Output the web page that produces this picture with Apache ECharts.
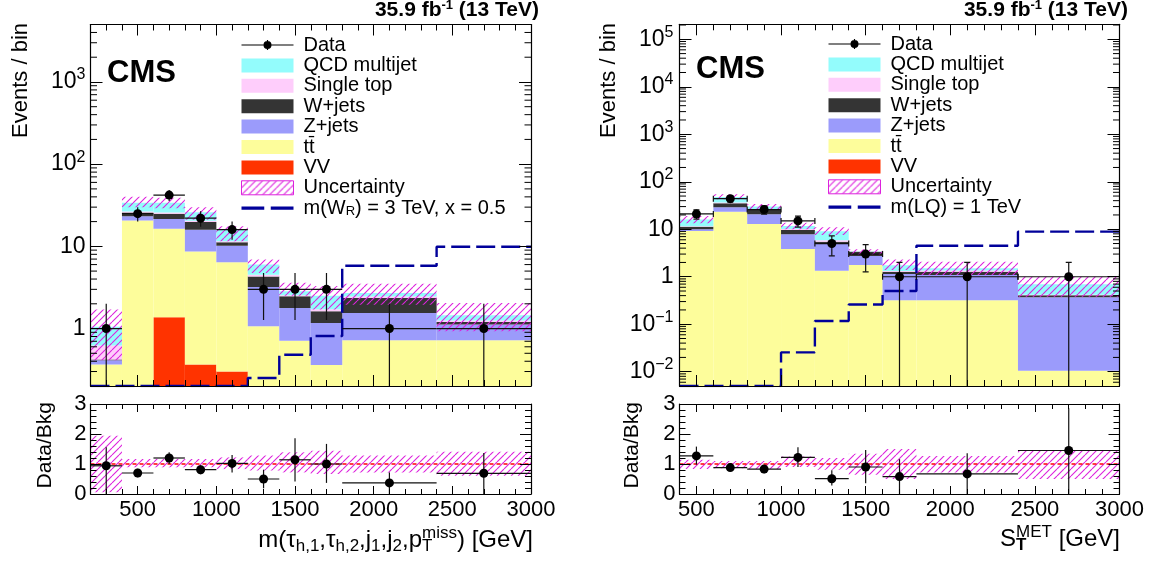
<!DOCTYPE html>
<html><head><meta charset="utf-8">
<script src="https://cdn.jsdelivr.net/npm/echarts@6/dist/echarts.min.js"></script>
<style>html,body{margin:0;padding:0;background:#fff}#c{width:1152px;height:563px}</style>
</head><body><div id="c"></div>
<script>
// ---------------- DATA ----------------
// Left panel: m(tau_h1, tau_h2, j1, j2, pTmiss)
const L_EDGES = [200, 400, 600, 800, 1000, 1200, 1400, 1600, 1800, 2400, 3000];
const L_VV  = [0, 0, 1.37, 0.365, 0.30, 0, 0, 0, 0, 0];
const L_TT  = [0.365, 20.7, 15.0, 8.3, 6.1, 1.07, 0.71, 0.36, 0.72, 0.72];
const L_Z   = [0.045, 2.5, 5.1, 7.3, 3.8, 2.13, 1.07, 0.81, 0.83, 0.40];
const L_W   = [0.01, 2.6, 3.5, 3.8, 1.0, 1.1, 0.69, 0.45, 0.81, 0.08];
const L_ST  = [0.2, 0.7, 0.8, 0.7, 0.3, 0.2, 0.08, 0.1, 0.09, 0.05];
const L_QCD = [0.43, 7.5, 8.2, 5.5, 4.5, 1.5, 0.3, 0.78, 0.25, 0.2];
const L_UNC_LO = [0.41, 30, 29, 21, 11.5, 4.75, 2.5, 1.7, 1.95, 0.93];
const L_UNC_HI = [1.70, 40, 39, 30, 17.5, 6.9, 3.6, 3.3, 3.5, 2.05];
const L_DATA = [1, 25, 42, 22, 16, 3, 3, 3, 1, 1];
const L_DATA_ERR = [1, 5, 6.5, 4.7, 4, 1.73, 1.73, 1.73, 1, 1];
const L_SIG = [0.2, 0.2, 0.2, 0.2, 0.2, 0.25, 0.48, 0.81, 5.8, 9.9];
const L_RATIO    = [0.94, 0.70, 1.20, 0.81, 1.02, 0.50, 1.14, 1.00, 0.37, 0.69];
const L_RATIO_LO = [0.00, 0.56, 1.00, 0.66, 0.72, 0.19, 0.42, 0.37, 0.00, 0.00];
const L_RATIO_HI = [1.56, 0.84, 1.39, 0.96, 1.30, 0.81, 1.86, 1.67, 0.72, 1.37];
const L_BAND_LO  = [0.06, 0.89, 0.89, 0.89, 0.83, 0.78, 0.72, 0.67, 0.72, 0.61];
const L_BAND_HI  = [1.94, 1.17, 1.17, 1.17, 1.22, 1.28, 1.39, 1.44, 1.28, 1.41];

// Right panel: S_T^MET
const R_EDGES = [400, 600, 800, 1000, 1200, 1400, 1600, 1800, 2400, 3000];
const R_VV  = [0, 0, 0, 0, 0, 0, 0, 0, 0];
const R_TT  = [9.2, 23.4, 12.9, 3.83, 1.34, 1.76, 0.32, 0.32, 0.0105];
const R_Z   = [0.75, 5.5, 7.7, 3.97, 3.54, 0.97, 0.82, 0.77, 0.36];
const R_W   = [1.35, 6.2, 4.8, 1.8, 0.58, 0.63, 0.13, 0.18, 0.035];
const R_ST  = [0.3, 1.5, 0.8, 0.5, 0.4, 0.05, 0.05, 0.08, 0.01];
const R_QCD = [4.4, 11.4, 3.8, 1.6, 3.24, 0.05, 0.43, 0.15, 0.275];
const R_UNC_LO = [13.3, 42.6, 26.5, 9.95, 7.55, 2.86, 1.38, 1.09, 0.38];
const R_UNC_HI = [19.0, 54.3, 33.9, 13.7, 11.0, 3.77, 2.32, 2.07, 1.0];
const R_DATA = [21, 44, 26, 15, 5, 3, 1, 1, 1];
const R_DATA_ERR = [4.6, 6.6, 5.1, 3.9, 2.24, 1.73, 1, 1, 1];
const R_SIG = [0.005, 0.005, 0.005, 0.0255, 0.117, 0.26, 0.5, 4.5, 8.9];
const R_RATIO    = [1.27, 0.88, 0.83, 1.22, 0.51, 0.90, 0.58, 0.67, 1.45];
const R_RATIO_LO = [0.98, 0.76, 0.69, 0.90, 0.28, 0.36, 0.00, 0.00, 0.00];
const R_RATIO_HI = [1.58, 1.00, 0.97, 1.56, 0.79, 1.47, 1.16, 1.36, 2.86];
const R_BAND_LO  = [0.83, 0.86, 0.83, 0.90, 0.81, 0.64, 0.50, 0.72, 0.50];
const R_BAND_HI  = [1.14, 1.10, 1.10, 1.25, 1.20, 1.34, 1.50, 1.27, 1.47];

const NAMES = {VV: 'VV', TT: 't' + 't\u0304', Z: 'Z+jets', W: 'W+jets', ST: 'Single top', QCD: 'QCD multijet'};
const SIG_L_NAME = 'm(W_R) = 3 TeV, x = 0.5';
const SIG_R_NAME = 'm(LQ) = 1 TeV';
const X_TICK_LABELS = [500, 1000, 1500, 2000, 2500, 3000];

// ---------------- STYLE ----------------
const FONT = "'Liberation Sans', Arial, Helvetica, sans-serif";
const COL = {VV: '#ff3300', TT: '#fdfd9b', Z: '#9b9bfb', W: '#343434', ST: '#fecdfb', QCD: '#93fcfc'};
const SIG_COLOR = '#00009a';
const HATCH_COLOR = '#dd22dd';
const L_YMIN = 0.2, L_YMAX = 5000, R_YMIN = 0.005, R_YMAX = 2.07e5;

function makeHatch() {
  const s = 7, c = document.createElement('canvas');
  c.width = s; c.height = s;
  const g = c.getContext('2d');
  g.strokeStyle = HATCH_COLOR; g.lineWidth = 1.1;
  g.beginPath();
  [-s, 0, s].forEach(o => { g.moveTo(o, s); g.lineTo(o + s, 0); });
  g.stroke();
  return {image: c, repeat: 'repeat'};
}
const HATCH = makeHatch();

const DATA_ICON = 'path://M0,6.4L52,6.4L52,7.6L0,7.6Z M25.4,2L26.6,2L26.6,12L25.4,12Z M22,7A4,4,0,1,1,30,7A4,4,0,1,1,22,7Z';
const DASH_ICON = 'path://M0,0L21,0L21,3L0,3Z M27,0L48,0L48,3L27,3Z';

// ---------------- AXES ----------------
function axisLineCfg() { return {show: true, onZero: false, lineStyle: {color: '#000', width: 1.2}}; }
function makeXAxes(gi, min, max, showLabels, tl, ml) {
  const mk = (pos, lab) => ({
    type: 'value', gridIndex: gi, min: min, max: max, position: pos, z: 10,
    splitLine: {show: false}, minorSplitLine: {show: false},
    axisLine: axisLineCfg(),
    axisTick: {show: true, inside: true, length: tl, lineStyle: {color: '#000', width: 1}},
    minorTick: {show: true, splitNumber: 5, length: ml, lineStyle: {color: '#000', width: 1}},
    axisLabel: lab ? {show: true, margin: 5, fontSize: 22, fontFamily: FONT, color: '#000',
      formatter: v => (X_TICK_LABELS.indexOf(v) >= 0 ? String(v) : '')} : {show: false}
  });
  return [mk('bottom', showLabels), mk('top', false)];
}
function logFmt(v) {
  const e = Math.log10(v), r = Math.round(e);
  if (Math.abs(e - r) > 1e-6) return '';
  if (r === 0) return '{m|1}';
  if (r === 1) return '{m|10}';
  return '{m|10}{s|' + (r < 0 ? '\u2212' + (-r) : r) + '}';
}
function makeLogYAxes(gi, min, max, margin) {
  const mk = (pos, lab) => ({
    type: 'log', logBase: 10, gridIndex: gi, min: min, max: max, position: pos, z: 10,
    splitLine: {show: false},
    axisLine: axisLineCfg(),
    axisTick: {show: true, inside: true, length: 12, lineStyle: {color: '#000', width: 1}},
    minorTick: {show: false},
    axisLabel: lab ? {show: true, margin: margin, color: '#000', fontFamily: FONT, formatter: logFmt,
      showMinLabel: false, showMaxLabel: false,
      rich: {m: {fontSize: 23, lineHeight: 30, fontFamily: FONT, color: '#000'},
             s: {fontSize: 16, lineHeight: 18, verticalAlign: 'top', fontFamily: FONT, color: '#000'}}} : {show: false}
  });
  return [mk('left', true), mk('right', false)];
}
function makeRatioYAxes(gi) {
  const mk = (pos, lab) => ({
    type: 'value', gridIndex: gi, min: 0, max: 3, interval: 1, position: pos, z: 10,
    splitLine: {show: false}, minorSplitLine: {show: false},
    axisLine: axisLineCfg(),
    axisTick: {show: true, inside: true, length: 11, lineStyle: {color: '#000', width: 1}},
    minorTick: {show: true, splitNumber: 5, length: 6, lineStyle: {color: '#000', width: 1}},
    axisLabel: lab ? {show: true, margin: 4, fontSize: 22, fontFamily: FONT, color: '#000'} : {show: false}
  });
  return [mk('left', true), mk('right', false)];
}

// ---------------- SERIES HELPERS ----------------
function rectRender(ymin, fill) {
  return function (params, api) {
    const x0 = api.value(0), x1 = api.value(1);
    const lo = Math.max(api.value(2), ymin), hi = api.value(3);
    if (!(hi > lo)) return null;
    const a = api.coord([x0, hi]), b = api.coord([x1, lo]);
    return {type: 'rect', shape: {x: a[0], y: a[1], width: b[0] - a[0], height: b[1] - a[1]}, style: {fill: fill}};
  };
}
function pointRender(ymin, caps) {
  return function (params, api) {
    const xc = api.value(0), hw = api.value(1), y = api.value(2);
    const lo = Math.max(api.value(3), ymin), hi = api.value(4);
    const c = api.coord([xc, y]), l = api.coord([xc - hw, y]), r = api.coord([xc + hw, y]);
    const t = api.coord([xc, hi]), b = api.coord([xc, lo]);
    const st = {stroke: '#111', lineWidth: 1.2};
    const ch = [
      {type: 'line', shape: {x1: l[0], y1: c[1], x2: r[0], y2: c[1]}, style: st},
      {type: 'line', shape: {x1: c[0], y1: t[1], x2: c[0], y2: b[1]}, style: st}
    ];
    if (caps) {
      const k = 3;
      ch.push({type: 'line', shape: {x1: l[0], y1: c[1] - k, x2: l[0], y2: c[1] + k}, style: st});
      ch.push({type: 'line', shape: {x1: r[0], y1: c[1] - k, x2: r[0], y2: c[1] + k}, style: st});
      ch.push({type: 'line', shape: {x1: c[0] - k, y1: t[1], x2: c[0] + k, y2: t[1]}, style: st});
      if (api.value(3) > ymin) ch.push({type: 'line', shape: {x1: c[0] - k, y1: b[1], x2: c[0] + k, y2: b[1]}, style: st});
    }
    ch.push({type: 'circle', shape: {cx: c[0], cy: c[1], r: 4.5}, style: {fill: '#000'}});
    return {type: 'group', children: ch};
  };
}
function minorTickRender(len) {
  return function (params, api) {
    const p = api.coord([api.value(0), api.value(1)]);
    const cs = params.coordSys, y = p[1];
    const st = {stroke: '#000', lineWidth: 1};
    return {type: 'group', children: [
      {type: 'line', shape: {x1: cs.x, y1: y, x2: cs.x + len, y2: y}, style: st},
      {type: 'line', shape: {x1: cs.x + cs.width - len, y1: y, x2: cs.x + cs.width, y2: y}, style: st}
    ]};
  };
}

function panelSeries(p) {
  const out = [];
  const n = p.edges.length - 1;
  const bins = Array.from({length: n}, (_, i) => i);
  const cum = bins.map(() => 0);
  // stacked backgrounds (bottom to top)
  p.comps.forEach(cp => {
    const d = bins.map(i => {
      const lo = cum[i], hi = cum[i] + cp.vals[i];
      cum[i] = hi;
      return [p.edges[i], p.edges[i + 1], Math.max(lo, p.ymin), hi];
    });
    out.push({type: 'custom', name: cp.name, xAxisIndex: p.xu, yAxisIndex: p.yu, clip: true, z: 2,
      itemStyle: {color: cp.color}, encode: {x: [0, 1], y: [2, 3]},
      renderItem: rectRender(p.ymin, cp.color), data: d, silent: true});
  });
  // uncertainty hatch
  out.push({type: 'custom', name: 'Uncertainty', xAxisIndex: p.xu, yAxisIndex: p.yu, clip: true, z: 3,
    itemStyle: {color: HATCH}, encode: {x: [0, 1], y: [2, 3]}, silent: true,
    renderItem: rectRender(p.ymin, HATCH),
    data: bins.map(i => [p.edges[i], p.edges[i + 1], p.uncLo[i], p.uncHi[i]])});
  // signal step line
  out.push({type: 'line', name: p.sigName, xAxisIndex: p.xu, yAxisIndex: p.yu, z: 4, step: 'end',
    symbol: 'none', showSymbol: false, clip: true, silent: true, color: SIG_COLOR,
    lineStyle: {color: SIG_COLOR, width: 2.4, type: [19, 6]},
    data: p.edges.map((x, i) => [x, p.sig[Math.min(i, n - 1)]])});
  // data points
  out.push({type: 'custom', name: 'Data', xAxisIndex: p.xu, yAxisIndex: p.yu, clip: true, z: 5,
    itemStyle: {color: '#000'}, encode: {x: [0], y: [2]}, silent: true,
    renderItem: pointRender(p.ymin, p.caps),
    data: bins.map(i => [(p.edges[i] + p.edges[i + 1]) / 2, (p.edges[i + 1] - p.edges[i]) / 2,
      p.data[i], Math.max(p.data[i] - p.dataErr[i], p.ymin), p.data[i] + p.dataErr[i]])});
  // log-axis minor ticks
  const mt = [];
  for (let k = Math.floor(Math.log10(p.ymin)); k <= Math.ceil(Math.log10(p.ymax)); k++) {
    for (let m = 2; m <= 9; m++) { const v = m * Math.pow(10, k); if (v > p.ymin && v < p.ymax) mt.push([p.edges[0], v]); }
  }
  out.push({type: 'custom', name: 'minorTicks', xAxisIndex: p.xu, yAxisIndex: p.yu, z: 11, silent: true,
    encode: {x: [0], y: [1]}, renderItem: minorTickRender(6.5), data: mt});
  // ratio band
  out.push({type: 'custom', name: 'ratioBand', xAxisIndex: p.xr, yAxisIndex: p.yr, clip: true, z: 3, silent: true,
    encode: {x: [0, 1], y: [2, 3]}, renderItem: rectRender(0, HATCH),
    data: bins.map(i => [p.edges[i], p.edges[i + 1], p.bandLo[i], p.bandHi[i]])});
  // unity line
  out.push({type: 'line', name: 'unity', xAxisIndex: p.xr, yAxisIndex: p.yr, z: 4, symbol: 'none', silent: true,
    lineStyle: {color: '#ff0000', width: 1.3, type: [4, 3]},
    data: [[p.edges[0], 1], [p.edges[n], 1]]});
  // ratio points
  out.push({type: 'custom', name: 'ratioPoints', xAxisIndex: p.xr, yAxisIndex: p.yr, clip: true, z: 5, silent: true,
    encode: {x: [0], y: [2]}, renderItem: pointRender(0, false),
    data: bins.map(i => [(p.edges[i] + p.edges[i + 1]) / 2, (p.edges[i + 1] - p.edges[i]) / 2,
      p.ratio[i], p.ratioLo[i], p.ratioHi[i]])});
  return out;
}

const leftSeries = panelSeries({
  edges: L_EDGES, ymin: L_YMIN, ymax: L_YMAX, xu: 0, yu: 0, xr: 2, yr: 2, caps: false,
  comps: [
    {name: NAMES.VV, vals: L_VV, color: COL.VV}, {name: NAMES.TT, vals: L_TT, color: COL.TT},
    {name: NAMES.Z, vals: L_Z, color: COL.Z}, {name: NAMES.W, vals: L_W, color: COL.W},
    {name: NAMES.ST, vals: L_ST, color: COL.ST}, {name: NAMES.QCD, vals: L_QCD, color: COL.QCD}],
  uncLo: L_UNC_LO, uncHi: L_UNC_HI, data: L_DATA, dataErr: L_DATA_ERR, sig: L_SIG, sigName: SIG_L_NAME,
  ratio: L_RATIO, ratioLo: L_RATIO_LO, ratioHi: L_RATIO_HI, bandLo: L_BAND_LO, bandHi: L_BAND_HI
});
const rightSeries = panelSeries({
  edges: R_EDGES, ymin: R_YMIN, ymax: R_YMAX, xu: 4, yu: 4, xr: 6, yr: 6, caps: true,
  comps: [
    {name: NAMES.VV, vals: R_VV, color: COL.VV}, {name: NAMES.TT, vals: R_TT, color: COL.TT},
    {name: NAMES.Z, vals: R_Z, color: COL.Z}, {name: NAMES.W, vals: R_W, color: COL.W},
    {name: NAMES.ST, vals: R_ST, color: COL.ST}, {name: NAMES.QCD, vals: R_QCD, color: COL.QCD}],
  uncLo: R_UNC_LO, uncHi: R_UNC_HI, data: R_DATA, dataErr: R_DATA_ERR, sig: R_SIG, sigName: SIG_R_NAME,
  ratio: R_RATIO, ratioLo: R_RATIO_LO, ratioHi: R_RATIO_HI, bandLo: R_BAND_LO, bandHi: R_BAND_HI
});

function legendData(sigName) {
  return [
    {name: 'Data', icon: DATA_ICON, itemStyle: {color: '#000'}},
    {name: NAMES.QCD, icon: 'rect', itemStyle: {color: COL.QCD}},
    {name: NAMES.ST, icon: 'rect', itemStyle: {color: COL.ST}},
    {name: NAMES.W, icon: 'rect', itemStyle: {color: COL.W}},
    {name: NAMES.Z, icon: 'rect', itemStyle: {color: COL.Z}},
    {name: NAMES.TT, icon: 'rect', itemStyle: {color: COL.TT}},
    {name: NAMES.VV, icon: 'rect', itemStyle: {color: COL.VV}},
    {name: 'Uncertainty', icon: 'rect', itemStyle: {color: HATCH, borderColor: HATCH_COLOR, borderWidth: 1}},
    {name: sigName, icon: DASH_ICON, itemStyle: {color: SIG_COLOR}}
  ];
}
function legendCfg(left, top, sigName) {
  return {
    left: left, top: top, orient: 'vertical', itemWidth: 52, itemHeight: 14, itemGap: 0.4, padding: 0,
    selectedMode: false, symbolKeepAspect: true,
    textStyle: {fontSize: 20, fontFamily: FONT, color: '#000', lineHeight: 20, padding: [0, 0, 0, 5],
      rich: {sub: {fontSize: 13, lineHeight: 6, verticalAlign: 'bottom', fontFamily: FONT, color: '#000'}}},
    formatter: name => (name === SIG_L_NAME ? 'm(W{sub|R}) = 3 TeV, x = 0.5' : name),
    data: legendData(sigName)
  };
}

function txt(x, y, text, font, align, extra) {
  return {type: 'text', x: x, y: y, silent: true,
    style: Object.assign({text: text, font: font, fill: '#000', align: align, textAlign: align,
      verticalAlign: 'middle', textVerticalAlign: 'middle'}, extra || {})};
}
const F = (s, b) => (b ? 'bold ' : '') + s + 'px ' + FONT;
// width of a run of text pieces (used to right-align left-anchored rich titles)
const measureCtx = document.createElement('canvas').getContext('2d');
function runWidth(parts) {
  return parts.reduce((w, pt) => { measureCtx.font = pt[1]; return w + measureCtx.measureText(pt[0]).width; }, 0);
}
const XT_MAIN = F(24), XT_SUB = F(17), XT_SUBB = F(17, true);
const leftTitleW = runWidth([['m(\u03c4', XT_MAIN], ['h,1', XT_SUB], [',\u03c4', XT_MAIN], ['h,2', XT_SUB], [',j', XT_MAIN],
  ['1', XT_SUB], [',j', XT_MAIN], ['2', XT_SUB], [',p', XT_MAIN], ['miss', XT_SUB], [') [GeV]', XT_MAIN]]);
const rightTitleW = runWidth([['S', XT_MAIN], ['MET', XT_SUB], [' [GeV]', XT_MAIN]]);

const graphics = [
  // luminosity labels
  txt(539, 10.5, '35.9 fb{sup|-1} (13 TeV)', F(21, true), 'right',
      {lineHeight: 24, rich: {sup: {font: F(13, true), lineHeight: 16, verticalAlign: 'top'}}}),
  txt(1128, 10.5, '35.9 fb{sup|-1} (13 TeV)', F(21, true), 'right',
      {lineHeight: 24, rich: {sup: {font: F(13, true), lineHeight: 16, verticalAlign: 'top'}}}),
  // CMS
  txt(107, 73, 'CMS', F(31, true), 'left'),
  txt(696, 69.5, 'CMS', F(31, true), 'left'),
  // x titles
  txt(533 - leftTitleW, 540, 'm(\u03c4{sub|h,1},\u03c4{sub|h,2},j{sub|1},j{sub|2},p{subT|T}{sup|miss}) [GeV]', XT_MAIN, 'left',
      {lineHeight: 30, rich: {
        sub: {font: XT_SUB, lineHeight: 20, verticalAlign: 'bottom'},
        subT: {font: XT_SUB, lineHeight: 10, verticalAlign: 'bottom', width: 0, align: 'left'},
        sup: {font: XT_SUB, lineHeight: 6, verticalAlign: 'top'}}}),
  txt(1120 - rightTitleW, 539, 'S{subT|T}{sup|MET} [GeV]', XT_MAIN, 'left',
      {lineHeight: 30, rich: {
        subT: {font: XT_SUBB, lineHeight: 12, verticalAlign: 'bottom', width: 0, align: 'left'},
        sup: {font: XT_SUB, lineHeight: 15, verticalAlign: 'top'}}})
];
// rotated y titles
[[21, 23, 'Events / bin'], [609, 23, 'Events / bin'], [45, 402, 'Data/Bkg'], [632, 402, 'Data/Bkg']].forEach(t => {
  const g = txt(t[0], t[1], t[2], F(t[2] === 'Data/Bkg' ? 21 : 22), 'right');
  g.rotation = Math.PI / 2;
  graphics.push(g);
});

const option = {
  animation: false,
  backgroundColor: '#fff',
  textStyle: {fontFamily: FONT},
  grid: [
    {left: 90.5, top: 24.5, width: 440.5, height: 361.5, outerBoundsMode: 'none', containLabel: false},
    {left: 90.5, top: 404, width: 440.5, height: 90, outerBoundsMode: 'none', containLabel: false},
    {left: 679.5, top: 24.3, width: 440, height: 361.7, outerBoundsMode: 'none', containLabel: false},
    {left: 679.5, top: 404, width: 440, height: 90, outerBoundsMode: 'none', containLabel: false}
  ],
  xAxis: [].concat(
    makeXAxes(0, 200, 3000, false, 11, 6),
    makeXAxes(1, 200, 3000, true, 8, 5),
    makeXAxes(2, 400, 3000, false, 11, 6),
    makeXAxes(3, 400, 3000, true, 8, 5)
  ),
  yAxis: [].concat(
    makeLogYAxes(0, L_YMIN, L_YMAX, 5),
    makeRatioYAxes(1),
    makeLogYAxes(2, R_YMIN, R_YMAX, 6),
    makeRatioYAxes(3)
  ),
  legend: [legendCfg(241, 35, SIG_L_NAME), legendCfg(828, 34, SIG_R_NAME)],
  graphic: {elements: graphics},
  series: [].concat(leftSeries, rightSeries)
};

const chart = echarts.init(document.getElementById('c'), null, {renderer: 'canvas', width: 1152, height: 563});
chart.setOption(option);
</script>
</body></html>
